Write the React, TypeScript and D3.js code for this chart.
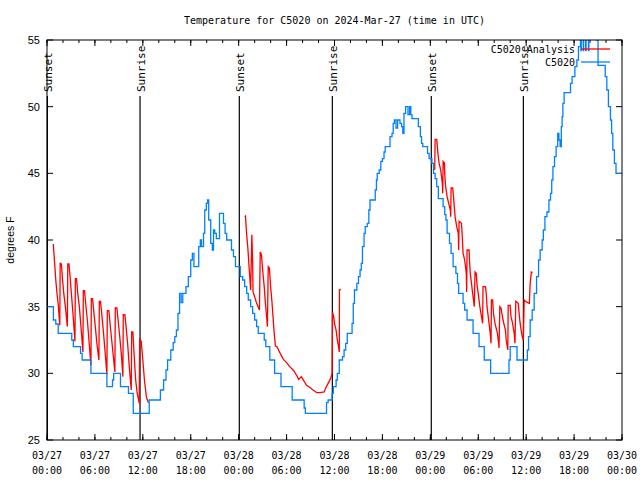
import React from 'react';
import * as d3 from 'd3';

// ---- data ----
const START = Date.UTC(2024, 2, 27, 0, 0);
const HOUR = 3600e3;
const toDate = (h: number) => new Date(START + h * HOUR);

const titleText = 'Temperature for C5020 on 2024-Mar-27 (time in UTC)';
const yLabelText = 'degrees F';
const yTicks = [25, 30, 35, 40, 45, 50, 55];
const seriesNames = ['C5020 Analysis', 'C5020'];
const seriesColors = ['#ff0000', '#0080ff'];
const sunLabels = ['Sunset', 'Sunrise', 'Sunset', 'Sunrise', 'Sunset', 'Sunrise'];
const sunHours = [0.05, 11.65, 24.08, 35.73, 48.12, 59.65];

// observation (hours since 03/27 00:00 UTC, deg F) — step line
const obs: [number, number][] = [
  [0, 35], [0.8, 34], [1.1, 33.7], [1.4, 33], [3.1, 32.5], [3.3, 32], [4.2, 31.5], [4.4, 31],
  [5.5, 30], [7.5, 29], [8.2, 29.5], [8.35, 30], [9.2, 29], [10.2, 28.5], [10.8, 27], [12.8, 28],
  [14.2, 28.75], [14.6, 29.5], [14.9, 30.25], [15.1, 31], [15.5, 31.75], [15.8, 32.3], [16.0, 32.75],
  [16.2, 33.25], [16.4, 34.5], [16.6, 36], [16.8, 35.3], [17.0, 36], [17.4, 36.5], [17.7, 37.25],
  [18.0, 38.5], [18.2, 39], [18.4, 38], [19.0, 39.5], [19.2, 40], [19.35, 39.5], [19.6, 40.5],
  [19.75, 42.25], [19.95, 42.75], [20.1, 43], [20.25, 41.5], [20.5, 39.75], [20.7, 39.25],
  [20.85, 40.75], [21.0, 40.5], [21.2, 40.1], [21.6, 42], [22.1, 41.25], [22.3, 40.5], [22.5, 40],
  [23.1, 39.25], [23.35, 38.75], [23.6, 38], [24.2, 37.25], [24.5, 37], [24.75, 36.5], [25.0, 36],
  [25.2, 35.5], [25.5, 35], [25.75, 34.5], [26.0, 34], [26.25, 33.5], [26.45, 33], [27.2, 32.5],
  [27.4, 32], [27.9, 31], [28.5, 30], [29.3, 29], [30.7, 28], [32.2, 27.4], [32.35, 27], [35.0, 27.8],
  [35.2, 28], [35.7, 28.5], [35.85, 29], [36.2, 29.5], [36.35, 30], [36.6, 31], [37.0, 31.25],
  [37.2, 31.75], [37.4, 32.25], [37.6, 33], [38.2, 33.75], [38.35, 35.25], [38.5, 36.25],
  [38.8, 36.75], [39.0, 37.25], [39.2, 37.75], [39.35, 38.25], [39.5, 39.5], [39.7, 40.5],
  [39.85, 41], [40.1, 41.25], [40.3, 42.25], [40.45, 43], [41.1, 43.75], [41.25, 44.5], [41.35, 45],
  [41.6, 45.25], [41.8, 45.9], [42.0, 46.1], [42.2, 46.6], [42.35, 47], [42.95, 47.75], [43.2, 48],
  [43.35, 48.75], [43.5, 49], [43.7, 48.4], [43.9, 49], [44.2, 48.75], [44.4, 48.5], [44.55, 48],
  [44.7, 49.5], [44.9, 50], [45.2, 49.4], [45.4, 50], [45.55, 49.4], [45.7, 49.1], [46.5, 48.5],
  [46.75, 47.75], [46.9, 47.25], [47.05, 47], [47.65, 46.5], [47.85, 46.1], [48.2, 45.75],
  [48.4, 45], [48.6, 44.6], [48.8, 44], [49.0, 43.1], [49.6, 42.5], [49.8, 41.9], [49.95, 41.5],
  [50.1, 40.5], [50.4, 39.75], [50.6, 39], [50.85, 38], [51.2, 37.5], [51.4, 36.75], [51.55, 36],
  [52.1, 35.25], [52.3, 34.75], [52.6, 34], [53.35, 33], [54.1, 32], [54.75, 31], [55.55, 30],
  [57.85, 31], [58.0, 32], [58.85, 31], [60.15, 31.75], [60.3, 32.75], [60.5, 34], [60.75, 34.75],
  [61.0, 36], [61.3, 37.25], [61.55, 38.5], [61.75, 39.25], [62.0, 40], [62.15, 40.75],
  [62.35, 41.75], [62.6, 42.1], [62.85, 43], [63.05, 43.5], [63.2, 44.5], [63.35, 45.5],
  [63.55, 46.25], [63.75, 47], [63.95, 48], [64.1, 47.5], [64.25, 47], [64.4, 48.5], [64.5, 49.25],
  [64.6, 50.25], [64.75, 51.05], [65.55, 51.75], [65.75, 52.25], [66.1, 53], [66.35, 53.5],
  [66.55, 54.5], [66.8, 55.5], [66.85, 54.2], [66.9, 55.5], [67.15, 54.2], [67.2, 55.5],
  [67.45, 54.2], [67.5, 55.5], [67.8, 54.2], [67.85, 55.5], [68.8, 55], [69.0, 53.1], [69.9, 52.25],
  [70.1, 51.25], [70.3, 50], [70.55, 49], [70.7, 48], [70.85, 46.75], [71.05, 45.75], [71.25, 45],
  [72, 45],
];

// analysis segments
const analysis1: [number, number][] = [
  [0.79, 39.7], [0.95, 38.3], [1.1, 37], [1.25, 36], [1.4, 35.2], [1.6, 33.6],
  [1.65, 38.25], [1.8, 38.2], [1.95, 37], [2.1, 36], [2.3, 35], [2.55, 33.5],
  [2.6, 38.2], [2.75, 38.2], [2.9, 37.2], [3.05, 36], [3.25, 34.5], [3.5, 32.4],
  [3.55, 37.1], [3.7, 37.1], [3.85, 36], [4.05, 35], [4.25, 33.5], [4.5, 31.6],
  [4.55, 36.2], [4.7, 36.2], [4.85, 35.2], [5.05, 34], [5.25, 32.5], [5.5, 30.6],
  [5.55, 35.6], [5.7, 35.6], [5.85, 34.7], [6.05, 33.5], [6.25, 32.2], [6.5, 31],
  [6.55, 35.4], [6.7, 35.4], [6.85, 34.5], [7.05, 33.2], [7.25, 31.8], [7.5, 29.9],
  [7.55, 34.7], [7.75, 34.7], [7.9, 33.7], [8.1, 32.5], [8.3, 31.3], [8.5, 30.1],
  [8.55, 34.9], [8.75, 34.9], [8.9, 34], [9.1, 32.8], [9.3, 31.5], [9.5, 29.75],
  [9.55, 34.4], [9.75, 34.4], [9.9, 33.5], [10.1, 32.2], [10.3, 30.5], [10.55, 28.75],
  [10.6, 33.1], [10.75, 33.1], [10.9, 31.5], [11.1, 29.5], [11.3, 28.5], [11.55, 27.75],
  [11.6, 32.55], [11.8, 32.4], [12.0, 31], [12.2, 29.5], [12.45, 28.2], [12.7, 27.8],
];
const analysis2: [number, number][] = [
  [24.75, 41.75], [24.85, 41.8], [25.0, 40.4], [25.15, 39.4], [25.3, 38], [25.5, 36.25],
  [25.65, 40.4], [25.75, 38.25], [25.8, 36.1], [26.0, 35.75], [26.25, 35.25], [26.6, 34.75],
  [26.7, 39.1], [26.85, 38.9], [27.0, 37.75], [27.2, 36.5], [27.35, 35.25], [27.5, 34.25], [27.6, 33.5],
  [27.7, 38], [27.85, 37.9], [28.0, 36.5], [28.15, 35.5], [28.3, 34.25], [28.45, 33], [28.6, 32.05],
  [28.8, 32], [29.2, 31.5], [29.6, 31.05], [30.0, 30.8], [30.4, 30.5], [30.9, 30.2], [31.3, 29.8],
  [31.5, 29.55], [31.85, 29.75], [32.2, 29.4], [32.5, 29.1], [32.8, 29.0], [33.3, 28.75],
  [33.8, 28.55], [34.2, 28.55], [34.7, 28.6], [34.9, 28.9], [35.2, 29.25], [35.5, 29.6], [35.7, 30],
  [35.75, 34.6], [35.9, 34.25], [36.0, 33.75], [36.2, 33.25], [36.35, 32.5], [36.5, 32], [36.6, 31.6],
  [36.62, 36.25], [36.8, 36.3],
];
const analysis3: [number, number][] = [
  [48.55, 45.25], [48.6, 47.55], [48.8, 47.55], [48.95, 46.5], [49.1, 45.75], [49.3, 45.25],
  [49.5, 44.25], [49.55, 43.5], [49.6, 45.9], [49.75, 45.8], [49.8, 45], [49.9, 44.1], [50.1, 43.25],
  [50.3, 42.75], [50.5, 42.25], [50.55, 41.75], [50.6, 43.9], [50.8, 43.9], [50.9, 43.25], [51.0, 42.5],
  [51.1, 41.75], [51.3, 41], [51.5, 40.5], [51.55, 39.25], [51.6, 41.4], [51.9, 41.25], [52.0, 40.25],
  [52.1, 39], [52.3, 38.5], [52.5, 37.5], [52.55, 36.1], [52.6, 39.25], [52.85, 39.25], [52.9, 38.5],
  [53.0, 37.5], [53.2, 36.5], [53.4, 35.5], [53.5, 35], [53.6, 37.6], [53.75, 37.5], [53.85, 36.6],
  [54.0, 36], [54.2, 35], [54.4, 34.25], [54.55, 33.75], [54.6, 36.5], [54.9, 36.5], [55.0, 36],
  [55.1, 35], [55.3, 34], [55.5, 33], [55.6, 32.25], [55.65, 35.5], [55.8, 35.5], [55.9, 34.5],
  [56.1, 33.75], [56.4, 33], [56.55, 32.25], [56.6, 31.9], [56.7, 35], [56.85, 34.9], [57.1, 34],
  [57.4, 33.25], [57.5, 32.5], [57.7, 31.75], [57.75, 35.1], [58.0, 35.1], [58.1, 34.25],
  [58.3, 33.75], [58.5, 33], [58.6, 32.25], [58.7, 35.4], [59.0, 35.25], [59.2, 34], [59.3, 33.5],
  [59.5, 32.75], [59.65, 32.5], [59.7, 34], [59.75, 35.5], [59.9, 35.4], [60.2, 35.3], [60.4, 35.25],
  [60.5, 36.75], [60.65, 37.6], [60.8, 37.55],
];
const analysisSegments = [analysis1, analysis2, analysis3];

const MONO = '"DejaVu Sans Mono", monospace';
const SANS = '"Liberation Sans", Arial, sans-serif';

export default function App() {
  const W = 640, H = 480;
  const L = 47, R = 622, T = 40, B = 440;
  const x = d3.scaleUtc().domain([toDate(0), toDate(72)]).range([L, R]);
  const y = d3.scaleLinear().domain([25, 55]).range([B, T]);

  const lineObs = d3.line<[number, number]>()
    .x(d => x(toDate(d[0])))
    .y(d => y(d[1]))
    .curve(d3.curveStepAfter);
  const lineAn = d3.line<[number, number]>()
    .x(d => x(toDate(d[0])))
    .y(d => y(d[1]));

  const major = x.ticks(d3.utcHour.every(6)!);
  const minor = x.ticks(d3.utcHour.every(2)!);
  const fmtD = d3.utcFormat('%m/%d');
  const fmtT = d3.utcFormat('%H:%M');

  return (
    <svg width={W} height={H} style={{ position: 'absolute', left: 0, top: 0, background: '#fff' }}>
      <defs>
        <clipPath id="plot">
          <rect x={L} y={T} width={R - L} height={B - T} />
        </clipPath>
      </defs>
      <rect x={0} y={0} width={W} height={H} fill="#fff" />
      <text x={(L + R) / 2} y={24} textAnchor="middle" fontFamily={MONO} fontSize={10}>{titleText}</text>

      {/* x ticks */}
      {minor.map((d, i) => (
        <g key={'mn' + i}>
          <line x1={x(d)} x2={x(d)} y1={B} y2={B - 3} stroke="#000" />
          <line x1={x(d)} x2={x(d)} y1={T} y2={T + 3} stroke="#000" />
        </g>
      ))}
      {major.map((d, i) => (
        <g key={'mj' + i}>
          <line x1={x(d)} x2={x(d)} y1={B} y2={B - 6} stroke="#000" />
          <line x1={x(d)} x2={x(d)} y1={T} y2={T + 6} stroke="#000" />
          <text x={x(d)} y={459} textAnchor="middle" fontFamily={MONO} fontSize={10}>{fmtD(d)}</text>
          <text x={x(d)} y={474} textAnchor="middle" fontFamily={MONO} fontSize={10}>{fmtT(d)}</text>
        </g>
      ))}

      {/* y ticks */}
      {yTicks.map((v, i) => (
        <g key={'y' + i}>
          <line x1={L} x2={L + 6} y1={y(v)} y2={y(v)} stroke="#000" />
          <line x1={R} x2={R - 6} y1={y(v)} y2={y(v)} stroke="#000" />
          <text x={40} y={y(v)} dy="0.35em" textAnchor="end" fontFamily={SANS} fontSize={11}>{v}</text>
        </g>
      ))}
      <text transform={`translate(14,240) rotate(-90)`} textAnchor="middle" fontFamily={SANS} fontSize={10.5}>{yLabelText}</text>

      {/* sun lines */}
      {sunHours.map((h, i) => (
        <g key={'s' + i}>
          <line x1={x(toDate(h))} x2={x(toDate(h))} y1={96} y2={B} stroke="#000" strokeWidth={1.2} />
          <text transform={`translate(${x(toDate(h)) + 1},92) rotate(-90)`} dy="0.35em" textAnchor="start"
            fontFamily={MONO} fontSize={11}>{sunLabels[i]}</text>
        </g>
      ))}

      <g clipPath="url(#plot)">
        {analysisSegments.map((seg, i) => (
          <path key={'a' + i} d={lineAn(seg) || ''} fill="none" stroke={seriesColors[0]} strokeWidth={1.3} />
        ))}
        <path d={lineObs(obs) || ''} fill="none" stroke={seriesColors[1]} strokeWidth={1.3} />
      </g>

      {/* legend */}
      {seriesNames.map((n, i) => (
        <g key={'l' + i}>
          <text x={575} y={49 + i * 13} dy="0.35em" textAnchor="end" fontFamily={MONO} fontSize={10}>{n}</text>
          <line x1={581} x2={610} y1={49 + i * 13} y2={49 + i * 13} stroke={seriesColors[i]} strokeWidth={1.3} />
        </g>
      ))}

      <rect x={L} y={T} width={R - L} height={B - T} fill="none" stroke="#000" />
    </svg>
  );
}
